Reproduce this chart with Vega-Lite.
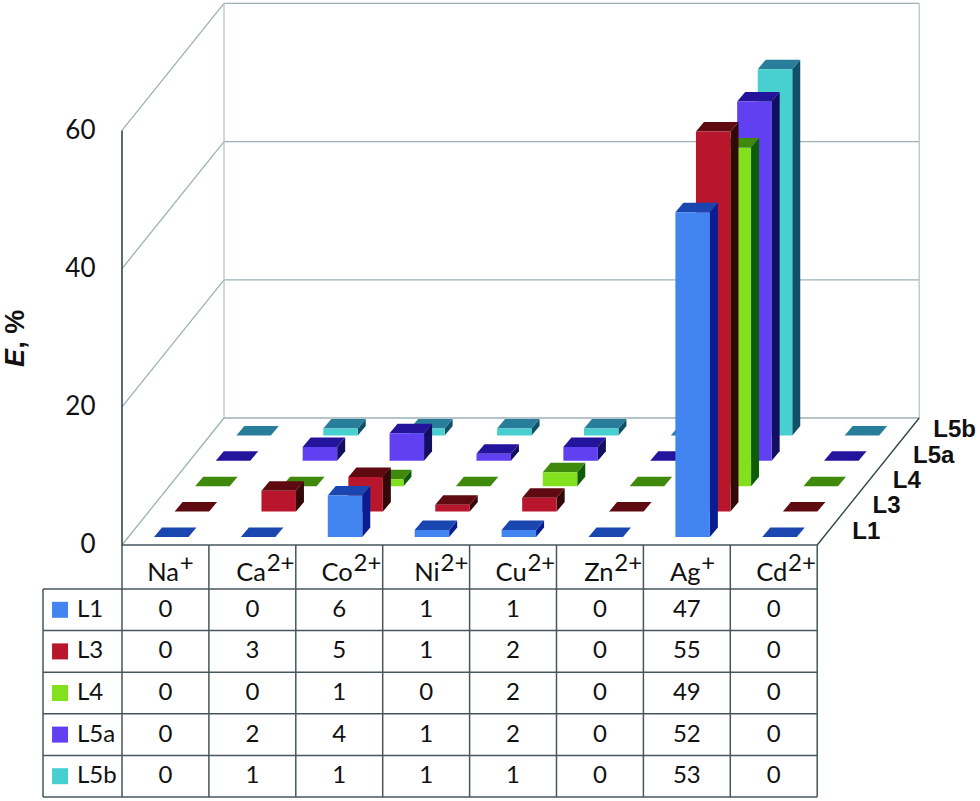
{
"$schema":"https://vega.github.io/schema/vega-lite/v6.json",
"width":980,"height":801,"padding":0,"autosize":{"type":"none"},
"background":"white",
"config":{"view":{"stroke":null}},
"resolve":{"axis":{"y":"independent","x":"independent"}},
"datasets":{
"rows":[
{"cation":"Na+","series":"L5b","value":0},{"cation":"Ca2+","series":"L5b","value":1},{"cation":"Co2+","series":"L5b","value":1},{"cation":"Ni2+","series":"L5b","value":1},{"cation":"Cu2+","series":"L5b","value":1},{"cation":"Zn2+","series":"L5b","value":0},{"cation":"Ag+","series":"L5b","value":53},{"cation":"Cd2+","series":"L5b","value":0},
{"cation":"Na+","series":"L5a","value":0},{"cation":"Ca2+","series":"L5a","value":2},{"cation":"Co2+","series":"L5a","value":4},{"cation":"Ni2+","series":"L5a","value":1},{"cation":"Cu2+","series":"L5a","value":2},{"cation":"Zn2+","series":"L5a","value":0},{"cation":"Ag+","series":"L5a","value":52},{"cation":"Cd2+","series":"L5a","value":0},
{"cation":"Na+","series":"L4","value":0},{"cation":"Ca2+","series":"L4","value":0},{"cation":"Co2+","series":"L4","value":1},{"cation":"Ni2+","series":"L4","value":0},{"cation":"Cu2+","series":"L4","value":2},{"cation":"Zn2+","series":"L4","value":0},{"cation":"Ag+","series":"L4","value":49},{"cation":"Cd2+","series":"L4","value":0},
{"cation":"Na+","series":"L3","value":0},{"cation":"Ca2+","series":"L3","value":3},{"cation":"Co2+","series":"L3","value":5},{"cation":"Ni2+","series":"L3","value":1},{"cation":"Cu2+","series":"L3","value":2},{"cation":"Zn2+","series":"L3","value":0},{"cation":"Ag+","series":"L3","value":55},{"cation":"Cd2+","series":"L3","value":0},
{"cation":"Na+","series":"L1","value":0},{"cation":"Ca2+","series":"L1","value":0},{"cation":"Co2+","series":"L1","value":6},{"cation":"Ni2+","series":"L1","value":1},{"cation":"Cu2+","series":"L1","value":1},{"cation":"Zn2+","series":"L1","value":0},{"cation":"Ag+","series":"L1","value":47},{"cation":"Cd2+","series":"L1","value":0}
],
"ticks":[{"tick":0},{"tick":20},{"tick":40},{"tick":60}],
"series":[{"series":"L1"},{"series":"L3"},{"series":"L4"},{"series":"L5a"},{"series":"L5b"}],
"headers":[{"ion":"Na","charge":"+"},{"ion":"Ca","charge":"2+"},{"ion":"Co","charge":"2+"},{"ion":"Ni","charge":"2+"},{"ion":"Cu","charge":"2+"},{"ion":"Zn","charge":"2+"},{"ion":"Ag","charge":"+"},{"ion":"Cd","charge":"2+"}],
"cols":[{"col":0},{"col":1},{"col":2},{"col":3},{"col":4},{"col":5},{"col":6},{"col":7},{"col":8}],
"lines":[{"line":0},{"line":1},{"line":2},{"line":3},{"line":4},{"line":5},{"line":6}],
"one":[{"item":"frame"}]
},
"layer":[
{"data":{"name":"ticks"},"transform":[{"calculate":"datum.tick+18.38","as":"back"}],
 "mark":{"type":"rule","stroke":"#9db1b6","strokeWidth":1.3},
 "encoding":{
  "x":{"datum":0,"type":"quantitative","scale":{"domain":[-1.4039,9.8734],"nice":false,"zero":false},"axis":null},
  "x2":{"datum":1.174},
  "y":{"field":"tick","type":"quantitative","scale":{"domain":[-37.05,78.87],"nice":false,"zero":false},
       "axis":{"values":[0,20,40,60],"orient":"left","offset":-100,"labelPadding":5,"ticks":false,"domain":false,"grid":false,"title":null,"labelFont":"Lato","labelFontSize":26,"labelColor":"#111111","labelBound":false,"labelFlush":false}},
  "y2":{"field":"back"}}},
{"data":{"name":"ticks"},"transform":[{"calculate":"datum.tick+18.38","as":"back"}],
 "mark":{"type":"rule","stroke":"#9db1b6","strokeWidth":1.3},
 "encoding":{
  "x":{"datum":1.174,"type":"quantitative","scale":{"domain":[-1.4039,9.8734],"nice":false,"zero":false},"axis":null},
  "x2":{"datum":9.174},
  "y":{"field":"back","type":"quantitative","scale":{"domain":[-37.05,78.87],"nice":false,"zero":false},"axis":null}}},
{"data":{"values":[{"wall":1.174},{"wall":9.174}]},
 "mark":{"type":"rule","stroke":"#b4c6ca","strokeWidth":1.3},
 "encoding":{
  "x":{"field":"wall","type":"quantitative","scale":{"domain":[-1.4039,9.8734],"nice":false,"zero":false},"axis":null},
  "y":{"datum":18.38,"type":"quantitative","scale":{"domain":[-37.05,78.87],"nice":false,"zero":false},"axis":null},
  "y2":{"datum":78.38}}},
{"data":{"name":"one"},
 "mark":{"type":"rule","stroke":"#33474d","strokeWidth":1.6},
 "encoding":{
  "x":{"datum":0,"type":"quantitative","scale":{"domain":[-1.4039,9.8734],"nice":false,"zero":false},"axis":null},
  "y":{"datum":0,"type":"quantitative","scale":{"domain":[-37.05,78.87],"nice":false,"zero":false},"axis":null},
  "y2":{"datum":60}}},
{"data":{"name":"one"},
 "mark":{"type":"rule","stroke":"#33474d","strokeWidth":1.4},
 "encoding":{
  "x":{"datum":8,"type":"quantitative","scale":{"domain":[-1.4039,9.8734],"nice":false,"zero":false},"axis":null},
  "x2":{"datum":9.174},
  "y":{"datum":0,"type":"quantitative","scale":{"domain":[-37.05,78.87],"nice":false,"zero":false},"axis":null},
  "y2":{"datum":18.38}}},
{"data":{"name":"rows"},
 "transform":[
  {"calculate":"indexof(['Na+','Ca2+','Co2+','Ni2+','Cu2+','Zn2+','Ag+','Cd2+'],datum.cation)","as":"i"},
  {"calculate":"indexof(['L1','L3','L4','L5a','L5b'],datum.series)","as":"s"},
  {"calculate":"datum.i+0.368+datum.s*0.237","as":"x0"},
  {"calculate":"datum.x0+0.397","as":"x1"},
  {"calculate":"1.158+datum.s*3.676","as":"b"},
  {"calculate":"datum.b+datum.value","as":"t"},
  {"calculate":"['side','top','front']","as":"face"},
  {"flatten":["face"]},
  {"calculate":"datum.face=='side'?[datum.x1,datum.x1+0.092]:datum.face=='top'?[datum.x0,datum.x0+0.092,datum.x1,datum.x1+0.092]:[datum.x0,datum.x1]","as":"fx"},
  {"calculate":"datum.face=='side'?[datum.t,datum.t+1.375]:datum.face=='top'?[datum.t,datum.t+1.375,datum.t+1.375,datum.t+1.375]:[datum.t,datum.t]","as":"fy"},
  {"calculate":"datum.face=='side'?[datum.b,datum.b+1.375]:datum.face=='top'?[datum.t,datum.t,datum.t,datum.t+1.375]:[datum.b,datum.b]","as":"fy2"},
  {"flatten":["fx","fy","fy2"]},
  {"calculate":"datum.series+'-'+datum.face","as":"faceKey"},
  {"calculate":"datum.series+'-'+datum.cation+'-'+datum.face","as":"polygon"}
 ],
 "mark":{"type":"area","interpolate":"linear","opacity":1,"line":false},
 "encoding":{
  "x":{"field":"fx","type":"quantitative","scale":{"domain":[-1.4039,9.8734],"nice":false,"zero":false},"axis":null},
  "y":{"field":"fy","type":"quantitative","stack":false,"scale":{"domain":[-37.05,78.87],"nice":false,"zero":false},"axis":null},
  "y2":{"field":"fy2"},
  "detail":{"field":"polygon","type":"nominal"},
  "color":{"field":"faceKey","type":"nominal","legend":null,"scale":{
    "domain":["L1-front","L1-top","L1-side","L3-front","L3-top","L3-side","L4-front","L4-top","L4-side","L5a-front","L5a-top","L5a-side","L5b-front","L5b-top","L5b-side"],
    "range":["#4285f0","#1a46b0","#0a1c92","#b8162c","#5e0a10","#320808","#82e01f","#3f8a0c","#0d5c0a","#6040f0","#24149c","#120e60","#48d0d0","#287e9a","#0f5068"]}}}},
{"data":{"name":"cols"},
 "mark":{"type":"rule","stroke":"#46565c","strokeWidth":1.5},
 "encoding":{
  "x":{"field":"col","type":"quantitative","scale":{"domain":[-1.4039,9.8734],"nice":false,"zero":false},"axis":null},
  "y":{"datum":0,"type":"quantitative","scale":{"domain":[-37.05,78.87],"nice":false,"zero":false},"axis":null},
  "y2":{"datum":-36.47}}},
{"data":{"name":"lines"},
 "transform":[
  {"calculate":"datum.line==0?0:-(6.37+(datum.line-1)*6.02)","as":"ly"},
  {"calculate":"datum.line==0?0:-0.909","as":"lx"},
  {"calculate":"8","as":"rx"}],
 "mark":{"type":"rule","stroke":"#46565c","strokeWidth":1.5},
 "encoding":{
  "x":{"field":"lx","type":"quantitative","scale":{"domain":[-1.4039,9.8734],"nice":false,"zero":false},"axis":null},
  "x2":{"field":"rx"},
  "y":{"field":"ly","type":"quantitative","scale":{"domain":[-37.05,78.87],"nice":false,"zero":false},"axis":null}}},
{"data":{"name":"one"},
 "mark":{"type":"rule","stroke":"#46565c","strokeWidth":1.5},
 "encoding":{
  "x":{"datum":-0.909,"type":"quantitative","scale":{"domain":[-1.4039,9.8734],"nice":false,"zero":false},"axis":null},
  "y":{"datum":-6.37,"type":"quantitative","scale":{"domain":[-37.05,78.87],"nice":false,"zero":false},"axis":null},
  "y2":{"datum":-36.47}}},
{"data":{"name":"rows"},
 "transform":[
  {"calculate":"indexof(['Na+','Ca2+','Co2+','Ni2+','Cu2+','Zn2+','Ag+','Cd2+'],datum.cation)+0.5","as":"cx"},
  {"calculate":"-(6.37+(indexof(['L1','L3','L4','L5a','L5b'],datum.series)+0.5)*6.02)","as":"cy"}],
 "mark":{"type":"text","font":"Lato","fontSize":24,"fill":"#111111","baseline":"middle","align":"center"},
 "encoding":{
  "x":{"field":"cx","type":"quantitative","scale":{"domain":[-1.4039,9.8734],"nice":false,"zero":false},"axis":null},
  "y":{"field":"cy","type":"quantitative","scale":{"domain":[-37.05,78.87],"nice":false,"zero":false},"axis":null},
  "text":{"field":"value","type":"quantitative"}}},
{"data":{"name":"headers"},
 "transform":[
  {"calculate":"indexof(['Na','Ca','Co','Ni','Cu','Zn','Ag','Cd'],datum.ion)+0.656","as":"hx"},
  {"calculate":"-5.21","as":"hy"}],
 "mark":{"type":"text","font":"Lato","fontSize":25.5,"fill":"#111111","baseline":"alphabetic","align":"right"},
 "encoding":{
  "x":{"field":"hx","type":"quantitative","scale":{"domain":[-1.4039,9.8734],"nice":false,"zero":false},"axis":null},
  "y":{"field":"hy","type":"quantitative","scale":{"domain":[-37.05,78.87],"nice":false,"zero":false},"axis":null},
  "text":{"field":"ion","type":"nominal"}}},
{"data":{"name":"headers"},
 "transform":[
  {"calculate":"indexof(['Na','Ca','Co','Ni','Cu','Zn','Ag','Cd'],datum.ion)+0.665","as":"hx"},
  {"calculate":"-3.76","as":"hy"}],
 "mark":{"type":"text","font":"Lato","fontSize":24,"fill":"#111111","baseline":"alphabetic","align":"left"},
 "encoding":{
  "x":{"field":"hx","type":"quantitative","scale":{"domain":[-1.4039,9.8734],"nice":false,"zero":false},"axis":null},
  "y":{"field":"hy","type":"quantitative","scale":{"domain":[-37.05,78.87],"nice":false,"zero":false},"axis":null},
  "text":{"field":"charge","type":"nominal"}}},
{"data":{"name":"series"},
 "transform":[
  {"calculate":"-(6.37+(indexof(['L1','L3','L4','L5a','L5b'],datum.series)+0.5)*6.02)","as":"cy"},
  {"calculate":"-0.713","as":"kx"},
  {"calculate":"datum.series+'-front'","as":"faceKey"}],
 "mark":{"type":"square","size":256,"opacity":1,"filled":true},
 "encoding":{
  "x":{"field":"kx","type":"quantitative","scale":{"domain":[-1.4039,9.8734],"nice":false,"zero":false},"axis":null},
  "y":{"field":"cy","type":"quantitative","scale":{"domain":[-37.05,78.87],"nice":false,"zero":false},"axis":null},
  "color":{"field":"faceKey","type":"nominal","legend":null,"scale":{
    "domain":["L1-front","L1-top","L1-side","L3-front","L3-top","L3-side","L4-front","L4-top","L4-side","L5a-front","L5a-top","L5a-side","L5b-front","L5b-top","L5b-side"],
    "range":["#4285f0","#1a46b0","#0a1c92","#b8162c","#5e0a10","#320808","#82e01f","#3f8a0c","#0d5c0a","#6040f0","#24149c","#120e60","#48d0d0","#287e9a","#0f5068"]}}}},
{"data":{"name":"series"},
 "transform":[
  {"calculate":"-(6.37+(indexof(['L1','L3','L4','L5a','L5b'],datum.series)+0.5)*6.02)","as":"cy"},
  {"calculate":"-0.518","as":"lx"}],
 "mark":{"type":"text","font":"Lato","fontSize":24,"fill":"#111111","baseline":"middle","align":"left"},
 "encoding":{
  "x":{"field":"lx","type":"quantitative","scale":{"domain":[-1.4039,9.8734],"nice":false,"zero":false},"axis":null},
  "y":{"field":"cy","type":"quantitative","scale":{"domain":[-37.05,78.87],"nice":false,"zero":false},"axis":null},
  "text":{"field":"series","type":"nominal"}}},
{"data":{"name":"series"},
 "transform":[
  {"calculate":"indexof(['L1','L3','L4','L5a','L5b'],datum.series)","as":"s"},
  {"calculate":"8.403+datum.s*0.2334","as":"sx"},
  {"calculate":"1.88+datum.s*3.69","as":"sy"}],
 "mark":{"type":"text","font":"Liberation Sans","fontWeight":"bold","fontSize":24,"fill":"#111111","baseline":"middle","align":"left"},
 "encoding":{
  "x":{"field":"sx","type":"quantitative","scale":{"domain":[-1.4039,9.8734],"nice":false,"zero":false},"axis":null},
  "y":{"field":"sy","type":"quantitative","scale":{"domain":[-37.05,78.87],"nice":false,"zero":false},"axis":null},
  "text":{"field":"series","type":"nominal"}}},
{"data":{"name":"one"},
 "mark":{"type":"text","text":"E","font":"Liberation Sans","fontWeight":"bold","fontStyle":"italic","fontSize":27,"fill":"#111111","angle":270,"baseline":"alphabetic","align":"left"},
 "encoding":{
  "x":{"datum":-1.128,"type":"quantitative","scale":{"domain":[-1.4039,9.8734],"nice":false,"zero":false},"axis":null},
  "y":{"datum":25.76,"type":"quantitative","scale":{"domain":[-37.05,78.87],"nice":false,"zero":false},"axis":null}}},
{"data":{"name":"one"},
 "mark":{"type":"text","text":", %","font":"Liberation Sans","fontWeight":"bold","fontSize":27,"fill":"#111111","angle":270,"baseline":"alphabetic","align":"left"},
 "encoding":{
  "x":{"datum":-1.128,"type":"quantitative","scale":{"domain":[-1.4039,9.8734],"nice":false,"zero":false},"axis":null},
  "y":{"datum":28.4,"type":"quantitative","scale":{"domain":[-37.05,78.87],"nice":false,"zero":false},"axis":null}}}
]
}
